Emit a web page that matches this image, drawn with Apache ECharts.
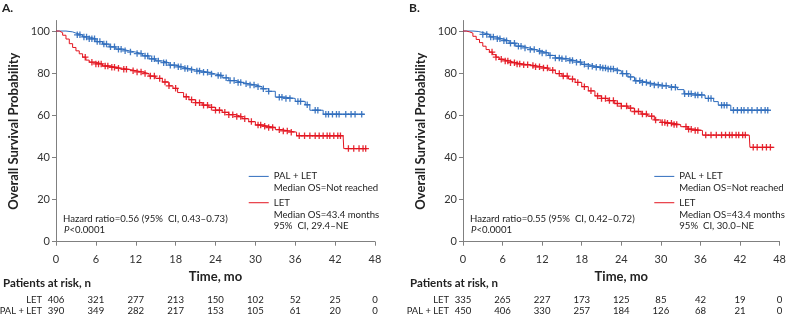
<!DOCTYPE html>
<html>
<head>
<meta charset="utf-8">
<script src="https://cdn.jsdelivr.net/npm/echarts@6/dist/echarts.min.js"></script>
<style>
  html, body { margin: 0; padding: 0; background: #fff; }
  #chart { width: 789px; height: 316px; }
</style>
</head>
<body>
<div id="chart"></div>
<script>
// Kaplan-Meier steps [month, survival %]
const aPal = [[0,100],[1.5,99.6],[2.5,99],[3,98.2],[4,97.2],[5,96.3],[6,95],[7,93.8],[8,92.5],[9,91.4],[10,90.6],[11,90],[12,89.3],[13,88.2],[14,86.8],[15,85.8],[16,85],[17,83.8],[18,83],[19,82.2],[20,81.6],[21,81],[22,80.4],[23,79.6],[24,78.9],[25,77.8],[26,76.5],[27,75.6],[28,75],[29,74.4],[30,73.6],[31,72.6],[32,71.4],[33,68.6],[34.5,68],[36,66.6],[37.5,65],[38.2,62.4],[40.2,60.5],[46.3,60.5]]
const aLet = [[0,100],[0.5,99.2],[1,98],[1.5,96.2],[2,94],[2.5,92.2],[3,90.6],[3.5,89.2],[4,87.6],[4.5,86.2],[5,85.2],[6,84.4],[7,83.4],[8,82.8],[9,82.3],[10,81.8],[11,81.2],[12,80.6],[13,79.8],[14,78.6],[15,77.5],[16,75.8],[17,74],[17.6,72.8],[18.3,70.8],[19.2,68.8],[20,67.4],[21,66],[22,64.8],[23,63.8],[24,62.4],[25,61.4],[26,60.3],[27,59.4],[28,58.4],[29,57],[30,55.4],[31,54.8],[32,54.2],[33,53.2],[34,52.6],[35,52],[36.2,50.3],[43.2,50.3],[43.3,44.2],[46.8,44.2]]
const bPal = [[0,100],[1.5,99.8],[2.3,99.3],[3,98.4],[4,97.2],[5,96.3],[6,95.4],[7,94.2],[8,92.8],[9,92],[10,91.2],[11,90.4],[12,89.6],[13,88.4],[14,87.2],[15,86.8],[16,86],[17,85.2],[18,84.2],[19,83.3],[20,82.8],[21,82.4],[22,82],[23,81.2],[24,79.8],[25,78.2],[26,76.4],[27,75.6],[28,75],[29,74.4],[30,74],[31,73.3],[32.5,72.2],[33.5,70.2],[35,69.6],[36.7,68],[38,66.5],[38.7,64.8],[40.6,62.4],[46.4,62.4]]
const bLet = [[0,100],[0.5,99.6],[1,99],[1.5,97.5],[2,96],[2.5,94.5],[3,92.8],[3.5,91.2],[4,90],[4.5,88.8],[5,87.6],[5.5,86.6],[6,85.8],[7,85],[8,84.4],[9,84],[10,83.6],[11,83],[12,82.4],[13,81.4],[14,79.8],[15,78.6],[16,77.2],[17,75.6],[18,73.6],[19,71.6],[20,69.2],[21,68],[22,67],[23,65.6],[24,64.4],[25,63.4],[26,61.8],[27,60.6],[28,59.6],[29,57.8],[30,56.6],[31,56.2],[32,55.6],[33,54.6],[34,53.4],[35,52.8],[36.3,50.6],[43.4,50.6],[43.5,44.8],[47.2,44.8]]

// censored times (months)
const aPalCens = [3.2,3.6,4.2,4.6,5.0,5.4,5.8,6.2,6.6,7.2,7.6,8.2,8.8,9.4,9.8,10.4,11.2,12.2,12.8,13.4,13.8,14.4,14.8,15.4,16.2,16.6,17.2,17.8,18.4,18.8,19.4,19.8,20.4,21.2,21.6,22.2,22.8,23.4,24.4,24.8,25.6,26.2,26.8,27.4,27.8,28.6,29.2,29.8,30.4,31.2,32.0,33.6,34.0,34.6,35.2,36.4,36.8,37.8,39.0,39.4,40.6,41.0,41.6,42.2,42.6,43.6,44.4,45.0,46.0]
const aLetCens = [4.4,5.4,6.0,6.4,6.8,7.4,7.8,8.4,8.8,9.4,10.2,10.6,11.6,12.2,12.8,13.4,14.2,14.8,15.6,16.4,17.0,18.0,19.6,20.4,21.0,21.6,22.2,22.8,23.4,24.0,24.6,25.4,26.0,26.6,27.2,27.8,28.4,29.4,30.4,30.8,31.4,32.0,32.6,33.6,34.2,34.8,35.4,36.6,37.4,38.2,39.0,39.6,40.2,40.8,41.2,41.8,42.4,42.8,44.0,44.8,45.6,46.2,46.6]
const bPalCens = [3.0,3.6,4.2,4.6,5.2,5.6,6.2,6.6,7.2,7.8,8.4,8.8,9.4,10.2,10.8,11.6,12.0,12.6,13.2,14.0,14.6,15.0,15.6,16.2,16.6,17.2,17.8,18.4,19.0,19.6,20.2,20.8,21.2,21.6,22.0,22.4,22.8,23.4,24.2,24.8,25.4,26.2,26.8,27.2,27.8,28.4,29.0,29.6,30.2,30.8,31.6,32.2,33.6,34.2,34.6,35.2,35.6,36.2,37.2,37.6,39.2,39.6,40.0,41.0,41.6,42.2,42.6,43.2,43.8,44.6,45.2,45.8,46.2]
const bLetCens = [4.4,5.0,5.8,6.4,6.8,7.2,7.8,8.2,8.6,9.2,9.8,10.6,11.0,11.6,12.2,12.8,13.6,14.6,15.2,15.8,16.6,17.4,18.4,19.4,20.4,21.0,21.6,22.2,22.8,23.4,24.0,24.8,25.4,26.0,26.6,27.2,27.8,28.6,29.2,30.2,30.6,31.0,31.6,32.0,32.4,33.8,34.2,34.6,35.2,35.6,36.8,37.6,38.4,39.2,39.8,40.4,40.8,41.4,41.8,42.4,42.8,44.0,44.6,45.4,46.0,46.6]

// patients at risk
const riskTimes = [0, 6, 12, 18, 24, 30, 36, 42, 48]
const aRiskLet = [406, 321, 277, 213, 150, 102, 52, 25, 0]
const aRiskPal = [390, 349, 282, 217, 153, 105, 61, 20, 0]
const bRiskLet = [335, 265, 227, 173, 125, 85, 42, 19, 0]
const bRiskPal = [450, 406, 330, 257, 184, 126, 68, 21, 0]

const BLUE = '#2f6dbd'
const RED = '#e3141f'
const FONT = 'Lato'
const SMALL = 9.6
const PLUS = 'path://M0,4H10V6H0ZM4,0H6V10H4Z'

// censored mark sits on the curve at that time
function onCurve (curve, times) {
  return times.map(t => {
    let v = curve[0][1]
    for (const p of curve) {
      if (p[0] <= t) v = p[1]
    }
    return [t, v]
  })
}

function xAxis (idx) {
  return {
    gridIndex: idx,
    type: 'value',
    min: 0,
    max: 48,
    interval: 6,
    name: 'Time, mo',
    nameLocation: 'middle',
    nameGap: 29,
    nameTextStyle: { fontFamily: FONT, fontWeight: 'bold', fontSize: 13, color: '#222' },
    axisLine: { lineStyle: { color: '#808080' } },
    axisTick: { length: 4, lineStyle: { color: '#808080' } },
    axisLabel: { fontFamily: FONT, fontSize: 11, color: '#333', margin: 12 },
    splitLine: { show: false }
  }
}

function yAxis (idx) {
  return {
    gridIndex: idx,
    type: 'value',
    min: 0,
    max: 105,
    name: 'Overall Survival Probability',
    nameLocation: 'middle',
    nameGap: 36,
    nameTextStyle: { fontFamily: FONT, fontWeight: 'bold', fontSize: 13, color: '#222' },
    axisLine: { show: true, lineStyle: { color: '#808080' } },
    axisTick: { show: true, length: 4, customValues: [0, 20, 40, 60, 80, 100], lineStyle: { color: '#808080' } },
    axisLabel: { fontFamily: FONT, fontSize: 11, color: '#333', margin: 6, customValues: [0, 20, 40, 60, 80, 100] },
    splitLine: { show: false }
  }
}

function curve (name, data, color, idx) {
  return {
    name: name,
    type: 'line',
    step: 'end',
    xAxisIndex: idx,
    yAxisIndex: idx,
    data: data,
    symbol: 'none',
    lineStyle: { color: color, width: 1 },
    silent: true,
    z: 2
  }
}

function censor (data, color, idx) {
  return {
    type: 'scatter',
    xAxisIndex: idx,
    yAxisIndex: idx,
    data: data,
    symbol: PLUS,
    symbolSize: 6.5,
    itemStyle: { color: color, opacity: 0.9 },
    silent: true,
    z: 3
  }
}

const chart = echarts.init(document.getElementById('chart'))
chart.setOption({
  animation: false,
  grid: [
    { left: 56, top: 20.5, width: 319, height: 221.2 },
    { left: 463, top: 20.5, width: 319, height: 221.2 }
  ],
  xAxis: [xAxis(0), xAxis(1)],
  yAxis: [yAxis(0), yAxis(1)],
  series: [
    curve('PAL + LET', aPal, BLUE, 0),
    curve('LET', aLet, RED, 0),
    censor(onCurve(aPal, aPalCens), BLUE, 0),
    censor(onCurve(aLet, aLetCens), RED, 0),
    curve('PAL + LET', bPal, BLUE, 1),
    curve('LET', bLet, RED, 1),
    censor(onCurve(bPal, bPalCens), BLUE, 1),
    censor(onCurve(bLet, bLetCens), RED, 1)
  ]
})

// annotations, legend and risk table placed with the chart's own scales
function txt (x, y, text, opts) {
  return {
    type: 'text',
    x: x,
    y: y,
    style: Object.assign({
      text: text,
      fontFamily: FONT,
      fontSize: SMALL,
      fill: '#222',
      verticalAlign: 'middle'
    }, opts || {})
  }
}

function panelGraphics (idx, title, hazard, ci, riskLet, riskPal) {
  const px = (t, v) => chart.convertToPixel({ gridIndex: idx }, [t, v])
  const origin = px(0, 0)
  const g = []
  g.push(txt(origin[0] - 54, 8, title, { fontWeight: 'bold', fontSize: 12 }))

  // legend
  const lx = px(29, 0)[0]
  const ly1 = px(0, 31)[1]
  const ly2 = px(0, 18.5)[1]
  g.push({ type: 'line', shape: { x1: lx, y1: ly1, x2: lx + 20, y2: ly1 }, style: { stroke: BLUE, lineWidth: 1 } })
  g.push(txt(lx + 25, ly1, 'PAL + LET'))
  g.push(txt(lx + 25, ly1 + 11.5, 'Median OS=Not reached'))
  g.push({ type: 'line', shape: { x1: lx, y1: ly2, x2: lx + 20, y2: ly2 }, style: { stroke: RED, lineWidth: 1 } })
  g.push(txt(lx + 25, ly2, 'LET'))
  g.push(txt(lx + 25, ly2 + 12, 'Median OS=43.4 months'))
  g.push(txt(lx + 25, ly2 + 23.5, '95%  CI, ' + ci))

  // hazard ratio
  const hx = origin[0] + 7
  const hy = px(0, 11)[1]
  g.push(txt(hx, hy, 'Hazard ratio=' + hazard))
  g.push(txt(hx + 1, hy + 11.5, '{i|P}<0.0001', { rich: { i: { fontStyle: 'italic', fontFamily: FONT, fontSize: SMALL, fill: '#222' } } }))

  // patients at risk
  const r1 = 300
  const r2 = 311
  g.push(txt(origin[0] - 53, 283, 'Patients at risk, n', { fontWeight: 'bold', fontSize: 11.5 }))
  g.push(txt(origin[0] - 14, r1, 'LET', { align: 'right', fontSize: 9.4 }))
  g.push(txt(origin[0] - 14, r2, 'PAL + LET', { align: 'right', fontSize: 9.4 }))
  riskTimes.forEach((t, i) => {
    const x = px(t, 0)[0]
    g.push(txt(x, r1, String(riskLet[i]), { align: 'center' }))
    g.push(txt(x, r2, String(riskPal[i]), { align: 'center' }))
  })
  return g
}

chart.setOption({
  graphic: [].concat(
    panelGraphics(0, 'A.', '0.56 (95%  CI, 0.43\u20130.73)', '29.4\u2013NE', aRiskLet, aRiskPal),
    panelGraphics(1, 'B.', '0.55 (95%  CI, 0.42\u20130.72)', '30.0\u2013NE', bRiskLet, bRiskPal)
  )
})
</script>
</body>
</html>
